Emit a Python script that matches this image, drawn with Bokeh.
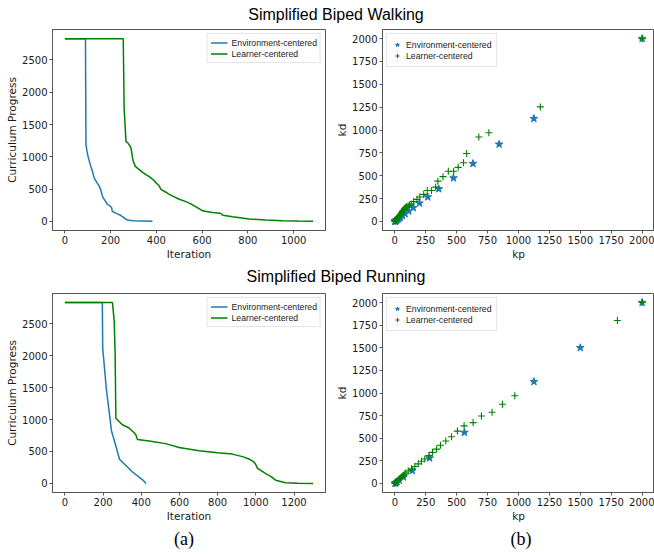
from bokeh.plotting import figure
from bokeh.layouts import column, row
from bokeh.models import Div, Range1d, FixedTicker
from bokeh.embed import file_html
from bokeh.resources import INLINE

# ---------------- data ----------------
# Simplified Biped Walking - curriculum progress vs iteration
walk_env_iter = [0, 90, 92, 97, 103, 110, 118, 128, 140, 150, 158, 165, 172, 186, 198, 204, 207, 215, 230, 245, 259, 268, 280, 300, 340, 383]
walk_env_prog = [2830, 2830, 1183, 1080, 980, 890, 800, 673, 600, 546, 470, 380, 340, 265, 235, 214, 160, 140, 115, 90, 55, 30, 18, 10, 5, 0]
walk_lrn_iter = [0, 255, 257, 259, 267, 274, 282, 289, 295, 299, 308, 325, 340, 354, 365, 376, 387, 398, 410, 420, 440, 456, 478, 500, 529, 550, 573, 590, 602, 625, 646, 670, 682, 690, 733, 806, 879, 952, 1020, 1085]
walk_lrn_prog = [2830, 2830, 2300, 1745, 1235, 1220, 1180, 1133, 1000, 929, 852, 801, 760, 724, 700, 673, 640, 597, 560, 495, 455, 418, 380, 342, 306, 270, 224, 190, 163, 150, 138, 128, 122, 95, 70, 36, 20, 10, 4, 0]

# Simplified Biped Walking - kd vs kp
walk_env_kp = [2000, 1125, 844, 633, 475, 356, 267, 200, 150, 113, 84, 63, 47, 36, 27, 20, 15, 11, 8, 6, 5, 4, 3, 2]
walk_env_kd = [2000, 1125, 844, 633, 475, 356, 267, 200, 150, 113, 84, 63, 47, 36, 27, 20, 15, 11, 8, 6, 5, 4, 3, 2]
walk_lrn_kp = [2000, 1177, 761, 680, 581, 556, 513, 476, 433, 390, 349, 331, 296, 263, 234, 202, 180, 153, 134, 120, 108, 95, 86, 80, 75, 68, 62, 55, 48, 40, 32, 27, 22, 17, 12, 8, 4, 1]
walk_lrn_kd = [2000, 1253, 971, 924, 744, 643, 592, 549, 549, 490, 441, 376, 339, 339, 296, 267, 242, 217, 190, 180, 170, 160, 152, 140, 127, 118, 108, 95, 79, 66, 54, 45, 36, 27, 18, 10, 5, 1]

# Simplified Biped Running - curriculum progress vs iteration
run_env_iter = [0, 196, 198, 217, 244, 259, 286, 354, 407, 425]
run_env_prog = [2830, 2830, 2118, 1480, 822, 669, 378, 179, 57, 0]
run_lrn_iter = [0, 249, 258, 263, 267, 284, 301, 336, 358, 371, 380, 441, 528, 598, 703, 800, 877, 930, 964, 991, 999, 1008, 1052, 1078, 1104, 1156, 1220, 1300]
run_lrn_prog = [2830, 2830, 2551, 2042, 1021, 970, 918, 868, 806, 765, 689, 664, 623, 562, 511, 480, 459, 420, 383, 332, 300, 240, 153, 110, 51, 10, 3, 0]

# Simplified Biped Running - kd vs kp
run_env_kp = [2000, 1500, 1125, 563, 281, 141, 70, 35, 18, 9, 4, 2]
run_env_kd = [2000, 1500, 1125, 563, 281, 141, 70, 35, 18, 9, 4, 2]
run_lrn_kp = [2000, 1800, 970, 870, 786, 700, 633, 560, 506, 458, 412, 369, 337, 304, 275, 242, 215, 189, 162, 135, 108, 89, 80, 70, 60, 50, 40, 30, 20, 10, 5, 0]
run_lrn_kd = [2000, 1801, 970, 875, 788, 745, 673, 637, 579, 517, 470, 423, 380, 344, 308, 271, 246, 217, 188, 163, 138, 116, 104, 92, 80, 66, 53, 40, 27, 14, 7, 0]

# tick labels
walk_iter_ticks = [0, 200, 400, 600, 800, 1000]
run_iter_ticks = [0, 200, 400, 600, 800, 1000, 1200]
prog_ticks = [0, 500, 1000, 1500, 2000, 2500]
gain_ticks = [0, 250, 500, 750, 1000, 1250, 1500, 1750, 2000]

titles = ["Simplified Biped Walking", "Simplified Biped Running"]
legend_labels = ["Environment-centered", "Learner-centered"]
sub_labels = ["(a)", "(b)"]

# ---------------- style ----------------
BLUE = "#1f77b4"
GREEN = "#008000"
AX = "#555555"
TXT = "#1a1a1a"


def padded(*arrays):
    lo = min(min(a) for a in arrays)
    hi = max(max(a) for a in arrays)
    pad = (hi - lo) * 0.05
    return Range1d(lo - pad, hi + pad)


def make_fig(width, height, xr, yr, xticks, yticks, xlabel, ylabel, mbl, mbr, mbb):
    p = figure(width=width, height=height, x_range=xr, y_range=yr, title=None,
               output_backend="svg", toolbar_location=None,
               min_border_left=mbl, min_border_right=mbr, min_border_top=1,
               min_border_bottom=mbb)
    p.xaxis.ticker = FixedTicker(ticks=xticks)
    p.yaxis.ticker = FixedTicker(ticks=yticks)
    p.xaxis.axis_label = xlabel
    p.yaxis.axis_label = ylabel
    for ax in (p.xaxis[0], p.yaxis[0]):
        ax.axis_line_color = AX
        ax.major_tick_line_color = AX
        ax.major_tick_out = 3
        ax.major_tick_in = 0
        ax.minor_tick_line_color = None
        ax.major_label_text_font = "DejaVu Sans"
        ax.major_label_text_font_size = "10px"
        ax.major_label_text_color = TXT
        ax.major_label_standoff = 2
        ax.axis_label_text_font = "DejaVu Sans"
        ax.axis_label_text_font_size = "10.5px"
        ax.axis_label_text_font_style = "normal"
        ax.axis_label_text_color = TXT
        ax.axis_label_standoff = 1
    p.grid.visible = False
    p.outline_line_color = AX
    p.outline_line_alpha = 1
    p.background_fill_color = "white"
    p.border_fill_color = "white"
    return p


def style_legend(p, loc, glyph_w, standoff, pad):
    lg = p.legend[0]
    lg.location = loc
    lg.margin = 4
    lg.padding = pad
    lg.spacing = 0
    lg.label_height = 11
    lg.glyph_height = 11
    lg.glyph_width = glyph_w
    lg.label_standoff = standoff
    lg.label_text_font = "Liberation Sans"
    lg.label_text_font_size = "8.7px"
    lg.label_text_color = TXT
    lg.border_line_color = "#cccccc"
    lg.border_line_width = 1
    lg.background_fill_alpha = 0.8


# ---- top left ----
p1 = make_fig(330, 234, padded(walk_env_iter, walk_lrn_iter), padded(walk_env_prog, walk_lrn_prog),
              walk_iter_ticks, prog_ticks, "Iteration", "Curriculum Progress", 52, 5, 29)
p1.line(walk_env_iter, walk_env_prog, line_color=BLUE, line_width=1.5, legend_label=legend_labels[0])
p1.line(walk_lrn_iter, walk_lrn_prog, line_color=GREEN, line_width=1.5, legend_label=legend_labels[1])
style_legend(p1, "top_right", 17, 4, 3)

# ---- top right ----
p2 = make_fig(324, 234, padded(walk_env_kp, walk_lrn_kp), padded(walk_env_kd, walk_lrn_kd),
              gain_ticks, gain_ticks, "kp", "kd", 52, 0, 29)
p2.scatter(walk_env_kp, walk_env_kd, marker="star", size=8, fill_color=BLUE, line_color=BLUE,
           legend_label=legend_labels[0])
p2.scatter(walk_lrn_kp, walk_lrn_kd, marker="cross", size=7, line_color=GREEN, line_width=1.1,
           legend_label=legend_labels[1])
style_legend(p2, "top_left", 10, 4, 5)

# ---- bottom left ----
p3 = make_fig(330, 232, padded(run_env_iter, run_lrn_iter), padded(run_env_prog, run_lrn_prog),
              run_iter_ticks, prog_ticks, "Iteration", "Curriculum Progress", 52, 5, 27)
p3.line(run_env_iter, run_env_prog, line_color=BLUE, line_width=1.5, legend_label=legend_labels[0])
p3.line(run_lrn_iter, run_lrn_prog, line_color=GREEN, line_width=1.5, legend_label=legend_labels[1])
style_legend(p3, "top_right", 17, 4, 3)

# ---- bottom right ----
p4 = make_fig(324, 232, padded(run_env_kp, run_lrn_kp), padded(run_env_kd, run_lrn_kd),
              gain_ticks, gain_ticks, "kp", "kd", 52, 0, 27)
p4.scatter(run_env_kp, run_env_kd, marker="star", size=8, fill_color=BLUE, line_color=BLUE,
           legend_label=legend_labels[0])
p4.scatter(run_lrn_kp, run_lrn_kd, marker="cross", size=7, line_color=GREEN, line_width=1.1,
           legend_label=legend_labels[1])
style_legend(p4, "top_left", 10, 4, 5)


def title_div(text, height, line_h):
    html = ('<div style="width:636px;margin-left:18px;text-align:center;'
            "font-family:'Liberation Sans';font-size:16px;line-height:%dpx;color:#000;"
            'white-space:nowrap;">%s</div>' % (line_h, text))
    return Div(text=html, width=654, height=height, margin=(0, 0, 0, 0))


t1 = title_div(titles[0], 28, 29)
t2 = title_div(titles[1], 30, 30)

lab_html = ('<div style="position:relative;width:654px;height:30px;'
            "font-family:'Liberation Serif';font-size:18px;line-height:30px;color:#000;\">"
            '<div style="position:absolute;left:164px;top:0;width:40px;text-align:center;">%s</div>'
            '<div style="position:absolute;left:501px;top:0;width:40px;text-align:center;">%s</div>'
            '</div>') % (sub_labels[0], sub_labels[1])
labs = Div(text=lab_html, width=654, height=30, margin=(0, 0, 0, 0))

layout = column(t1, row(p1, p2, spacing=0), t2, row(p3, p4, spacing=0), labs, spacing=0)

open("out.html", "w").write(file_html(layout, INLINE))
